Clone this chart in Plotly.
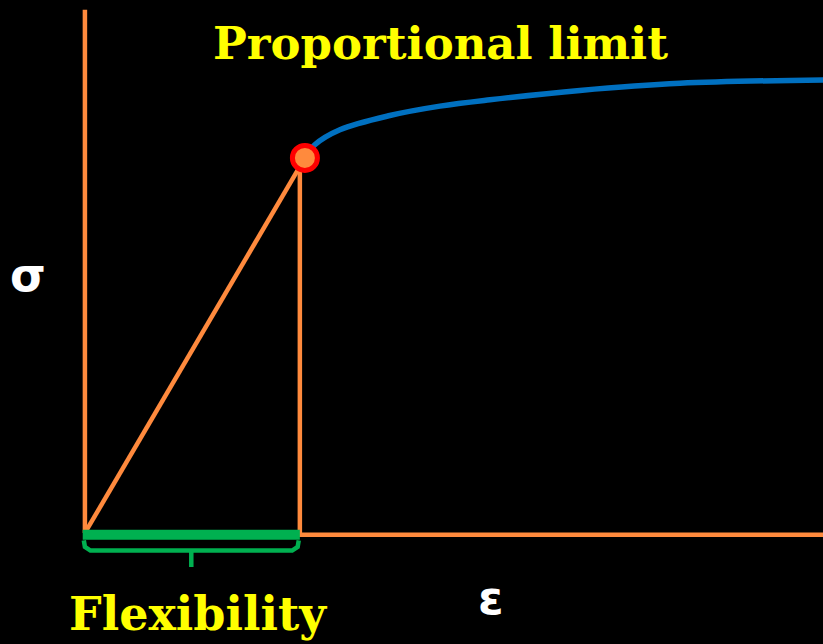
import plotly.graph_objects as go

# ---- data (strain in units of proportional-limit strain, stress likewise) ----
elastic_strain = [0.0, 1.0]
elastic_stress = [0.0, 1.0]

plastic_strain = [1.0, 1.045, 1.159, 1.386, 1.614, 1.841, 2.25, 2.705, 3.36]
plastic_stress = [1.0, 1.035, 1.075, 1.113, 1.138, 1.155, 1.180, 1.199, 1.208]

prop_limit = (1.0, 1.0)
flex_end = 0.977          # strain where the vertical marker line / flexibility bar ends
axis_top = 1.395
axis_right = 3.40

X_RANGE = [-0.386, 3.355]
Y_RANGE = [-0.296, 1.421]

ORANGE = "#FF8A3D"
BLUE = "#0070C0"
GREEN = "#00B050"
YELLOW = "#FFFF00"

fig = go.Figure()

# y axis line
fig.add_trace(go.Scatter(x=[0, 0], y=[0, axis_top], mode="lines",
                         line=dict(color=ORANGE, width=4.5), hoverinfo="skip"))
# x axis line
fig.add_trace(go.Scatter(x=[0, axis_right], y=[-0.005, -0.005], mode="lines",
                         line=dict(color=ORANGE, width=4.5), hoverinfo="skip"))
# vertical drop at proportional limit
fig.add_trace(go.Scatter(x=[flex_end, flex_end], y=[-0.005, prop_limit[1] - 0.01], mode="lines",
                         line=dict(color=ORANGE, width=4.5), hoverinfo="skip"))
# elastic line
fig.add_trace(go.Scatter(x=elastic_strain, y=elastic_stress, mode="lines",
                         line=dict(color=ORANGE, width=4.5), hoverinfo="skip"))
# plastic curve
fig.add_trace(go.Scatter(x=plastic_strain, y=plastic_stress, mode="lines",
                         line=dict(color=BLUE, width=5.5, shape="spline", smoothing=1.0),
                         hoverinfo="skip"))
# flexibility bar
fig.add_trace(go.Scatter(x=[-0.01, flex_end], y=[-0.005, -0.005], mode="lines",
                         line=dict(color=GREEN, width=10), hoverinfo="skip"))
# brace
b_top, b_mid, b_tip = -0.02, -0.047, -0.091
x0, x1 = -0.005, flex_end - 0.005
xm = (x0 + x1) / 2
brace_x = [x0, x0 + 0.005, x0 + 0.03, xm - 0.01, xm, xm, xm, xm + 0.01, x1 - 0.03, x1 - 0.005, x1]
brace_y = [b_top, b_mid + 0.01, b_mid, b_mid, b_mid, b_tip, b_mid, b_mid, b_mid, b_mid + 0.01, b_top]
fig.add_trace(go.Scatter(x=brace_x, y=brace_y, mode="lines",
                         line=dict(color=GREEN, width=4.5), hoverinfo="skip"))
# proportional limit marker
fig.add_trace(go.Scatter(x=[prop_limit[0]], y=[prop_limit[1]], mode="markers",
                         marker=dict(size=25, color=ORANGE, line=dict(color="#FF0000", width=5)),
                         hoverinfo="skip"))

serif = "DejaVu Serif"
def label(text, x, y, family, size, color):
    fig.add_annotation(x=x, y=y, xref="paper", yref="paper", text=text, showarrow=False,
                       xanchor="center", yanchor="middle",
                       font=dict(family=family, size=size, color=color))

label("<b>Proportional limit</b>", 440 / 823, 1 - 43 / 644, serif, 45, YELLOW)
label("<b>Flexibility</b>", 198 / 823, 1 - 614 / 644, serif, 46, YELLOW)
label("<b>σ</b>", 28 / 823, 1 - 275 / 644, "DejaVu Sans", 46, "white")
label("<b>ε</b>", 491 / 823, 1 - 598 / 644, "DejaVu Sans", 46, "white")

fig.update_layout(
    width=823, height=644,
    margin=dict(l=0, r=0, t=0, b=0),
    paper_bgcolor="black", plot_bgcolor="black",
    showlegend=False,
    xaxis=dict(range=X_RANGE, visible=False, fixedrange=True),
    yaxis=dict(range=Y_RANGE, visible=False, fixedrange=True),
)

fig.write_html("out.html", config={"displayModeBar": False},
               post_script="document.body.style.margin='0';document.body.style.background='black';")
